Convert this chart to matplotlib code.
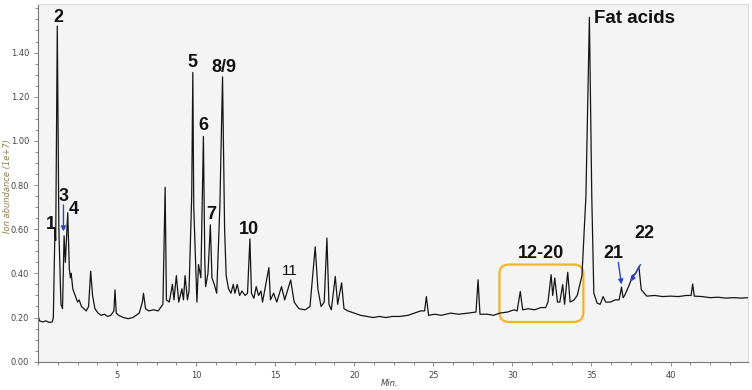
import matplotlib.pyplot as plt
from matplotlib.patches import FancyBboxPatch
from matplotlib.ticker import MultipleLocator, FormatStrFormatter

# retention time (min) and ion abundance (1e+7)
tiempo = [0.00, 0.10, 0.30, 0.50, 0.70, 0.90, 0.97, 1.03, 1.07, 1.12, 1.22, 1.32, 1.45, 1.55,
          1.65, 1.73, 1.88, 1.98, 2.05, 2.10, 2.20, 2.35, 2.50, 2.60, 2.75, 2.90, 3.05, 3.20,
          3.33, 3.45, 3.60, 3.80, 4.00, 4.20, 4.40, 4.60, 4.80, 4.87, 4.95, 5.10, 5.40, 5.70,
          6.00, 6.20, 6.40, 6.60, 6.67, 6.80, 7.00, 7.30, 7.60, 7.90, 8.04, 8.12, 8.30, 8.50,
          8.60, 8.75, 8.90, 9.10, 9.20, 9.30, 9.45, 9.55, 9.72, 9.79, 9.85, 9.92, 10.05, 10.15,
          10.30, 10.46, 10.55, 10.60, 10.75, 10.90, 11.00, 11.15, 11.30, 11.50, 11.67, 11.80,
          11.90, 12.05, 12.20, 12.35, 12.45, 12.60, 12.75, 12.90, 13.10, 13.25, 13.40, 13.50,
          13.65, 13.80, 13.95, 14.10, 14.20, 14.60, 14.70, 14.90, 15.10, 15.40, 15.60, 15.98,
          16.20, 16.50, 16.90, 17.20, 17.53, 17.70, 17.90, 18.10, 18.27, 18.40, 18.55, 18.80,
          18.95, 19.20, 19.35, 19.60, 20.00, 20.40, 20.80, 21.20, 21.60, 22.00, 22.40, 22.90,
          23.40, 23.80, 24.20, 24.45, 24.56, 24.70, 25.10, 25.50, 26.10, 26.60, 27.20, 27.70,
          27.83, 27.95, 28.40, 28.80, 29.20, 29.70, 30.10, 30.30, 30.50, 30.65, 31.00, 31.40,
          31.80, 32.10, 32.25, 32.45, 32.55, 32.68, 32.85, 33.00, 33.18, 33.30, 33.50, 33.65,
          33.90, 34.10, 34.40, 34.65, 34.87, 35.02, 35.15, 35.36, 35.55, 35.74, 35.90, 36.20,
          36.50, 36.75, 36.90, 37.00, 37.10, 37.40, 37.60, 37.80, 38.00, 38.15, 38.50, 39.00,
          39.50, 40.00, 40.50, 41.00, 41.30, 41.40, 41.50, 42.00, 42.50, 43.00, 43.50, 44.00,
          44.50, 44.90]
abundancia = [0.21, 0.185, 0.18, 0.185, 0.178, 0.18, 0.20, 0.45, 0.60, 0.55, 1.52, 0.60, 0.26, 0.24,
              0.57, 0.45, 0.675, 0.42, 0.38, 0.40, 0.33, 0.30, 0.27, 0.28, 0.25, 0.24, 0.23, 0.25,
              0.41, 0.30, 0.24, 0.22, 0.21, 0.215, 0.205, 0.21, 0.23, 0.325, 0.22, 0.21, 0.20, 0.195,
              0.20, 0.21, 0.22, 0.27, 0.31, 0.24, 0.23, 0.235, 0.23, 0.26, 0.79, 0.28, 0.27, 0.35,
              0.28, 0.39, 0.27, 0.33, 0.28, 0.39, 0.28, 0.32, 0.75, 1.31, 0.70, 0.55, 0.27, 0.44,
              0.38, 1.02, 0.45, 0.34, 0.40, 0.62, 0.38, 0.35, 0.31, 0.70, 1.29, 0.60,
              0.39, 0.33, 0.31, 0.35, 0.31, 0.35, 0.30, 0.32, 0.30, 0.31, 0.556, 0.31,
              0.287, 0.34, 0.30, 0.32, 0.27, 0.426, 0.28, 0.31, 0.27, 0.34, 0.28, 0.37,
              0.27, 0.24, 0.235, 0.25, 0.52, 0.33, 0.25, 0.27, 0.56, 0.26, 0.235, 0.386,
              0.26, 0.357, 0.24, 0.23, 0.22, 0.21, 0.205, 0.20, 0.205, 0.20, 0.205, 0.205,
              0.21, 0.22, 0.23, 0.23, 0.295, 0.21, 0.215, 0.21, 0.22, 0.215, 0.22, 0.225,
              0.371, 0.215, 0.215, 0.21, 0.22, 0.225, 0.235, 0.23, 0.318, 0.235, 0.24, 0.235,
              0.245, 0.245, 0.27, 0.394, 0.30, 0.379, 0.27, 0.27, 0.349, 0.26, 0.405, 0.27,
              0.28, 0.30, 0.39, 0.75, 1.56, 0.75, 0.31, 0.265, 0.26, 0.295, 0.27, 0.27,
              0.28, 0.28, 0.338, 0.29, 0.30, 0.349, 0.39, 0.40, 0.43, 0.326, 0.297, 0.30,
              0.295, 0.297, 0.295, 0.30, 0.30, 0.352, 0.297, 0.295, 0.29, 0.292, 0.288, 0.29,
              0.288, 0.29]

y_ticks = [0.0, 0.2, 0.4, 0.6, 0.8, 1.0, 1.2, 1.4]
x_ticks = [5, 10, 15, 20, 25, 30, 35, 40]

# peak labels: (text, t, y)
etiquetas = [("1", 0.80, 0.62), ("2", 1.29, 1.56), ("3", 1.65, 0.75), ("4", 2.28, 0.69),
             ("5", 9.79, 1.356), ("6", 10.46, 1.071), ("7", 10.95, 0.667), ("8/9", 11.73, 1.334),
             ("10", 13.35, 0.60), ("12-20", 31.8, 0.49), ("21", 36.4, 0.49), ("22", 38.35, 0.58)]

# blue arrows: (tail t, tail y, head t, head y)
flechas = [(1.61, 0.71, 1.61, 0.59), (36.7, 0.45, 36.9, 0.35), (38.1, 0.44, 37.47, 0.362)]

fig = plt.figure(figsize=(7.52, 3.90), dpi=100)
ax = fig.add_axes([38 / 752, 1 - 361.7 / 390, 710 / 752, 357.7 / 390])
ax.set_facecolor('#f4f4f4')

ax.plot(tiempo, abundancia, color='#151515', lw=0.9)

ax.set_xlim(0, 44.9)
ax.set_ylim(0, 1.62)
ax.set_xticks(x_ticks)
ax.set_yticks(y_ticks)
ax.xaxis.set_minor_locator(MultipleLocator(1.25))
ax.yaxis.set_minor_locator(MultipleLocator(0.05))
ax.yaxis.set_major_formatter(FormatStrFormatter('%.2f'))
ax.tick_params(which='both', direction='out', colors='#777777', labelcolor='#444444',
               labelsize=6, width=0.6)
ax.tick_params(which='major', length=3)
ax.tick_params(which='minor', length=2)
for lado in ['left', 'bottom']:
    ax.spines[lado].set_color('#777777')
    ax.spines[lado].set_linewidth(0.8)
for lado in ['top', 'right']:
    ax.spines[lado].set_color('#dcdcdc')

ax.set_xlabel('Min.', fontsize=6, style='italic', color='#444444')
ax.set_ylabel('Ion abundance (1e+7)', fontsize=6, style='italic', color='#8c7b4a')
ax.xaxis.set_label_coords(0.495, -0.047)
ax.yaxis.set_label_coords(-0.037, 0.49)

for texto, t, y in etiquetas:
    ax.text(t, y, texto, ha='center', va='center', fontsize=13, fontweight='bold',
            family='Liberation Sans', color='#111111')
ax.text(15.9, 0.41, "11", ha='center', va='center', fontsize=11,
        family='Liberation Sans', color='#111111')
ax.text(35.15, 1.553, "Fat acids", ha='left', va='center', fontsize=13.5, fontweight='bold',
        family='Liberation Sans', color='#111111')

for t0, y0, t1, y1 in flechas:
    ax.annotate('', xy=(t1, y1), xytext=(t0, y0),
                arrowprops=dict(arrowstyle='-|>', color='#2a45c8', lw=1.0,
                                mutation_scale=7, shrinkA=0, shrinkB=0))

caja = FancyBboxPatch((29.18, 0.18), 34.49 - 29.18, 0.44 - 0.18,
                      boxstyle='round,pad=0,rounding_size=0.6', mutation_aspect=0.0715,
                      fill=False, edgecolor='#f0b32a', lw=1.6)
ax.add_patch(caja)

plt.savefig('out.png', dpi=100)
